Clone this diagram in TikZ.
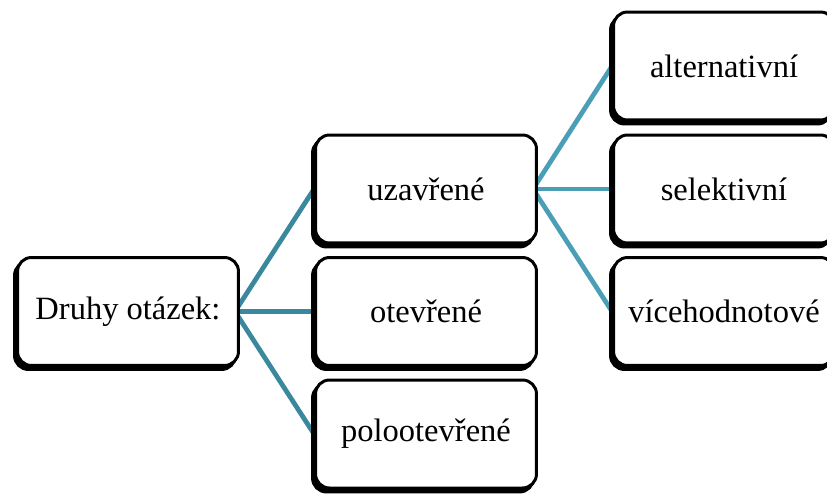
\documentclass[tikz,border=0pt]{standalone}
\usepackage{fontspec}
\setmainfont{Liberation Serif}
\usetikzlibrary{backgrounds}
\definecolor{linkdark}{HTML}{3A889D}
\definecolor{linklight}{HTML}{4A9FB6}
\tikzset{
  px/.style={x=0.02cm,y=-0.02cm},
  box/.style={draw=black, fill=white, line width=1.7pt, rounded corners=0.28cm,
    minimum width=4.42cm, minimum height=2.16cm, inner sep=0pt,
    font=\fontsize{18.5pt}{22pt}\selectfont,
    preaction={fill=black, draw=black, line width=1.7pt,
      transform canvas={shift={(-0.06cm,-0.08cm)}}}},
  linkL/.style={draw=linkdark, line width=2.7pt},
  linkR/.style={draw=linklight, line width=2.7pt}
}
\begin{document}
\begin{tikzpicture}[px]
  \clip (0,0) rectangle (827,493);
  % first level
  \node[box] (root) at (128,311.5) {Druhy otázek:};
  % second level
  \node[box] (closed) at (426,189) {uzavřené};
  \node[box] (open) at (426,311.5) {otevřené};
  \node[box] (semi) at (426,434) {polootevřené};
  % third level
  \node[box] (alt) at (724,66) {alternativní};
  \node[box] (sel) at (724,189) {selektivní};
  \node[box] (multi) at (724,311.5) {vícehodnotové};
  % connectors start slightly inside the parent's right edge
  \coordinate (rootout) at ([xshift=-0.1cm]root.east);
  \coordinate (closedout) at ([xshift=-0.1cm]closed.east);
  \begin{pgfonlayer}{background}
    \fill[white] (0,0) rectangle (827,493);
    \draw[linkL] (rootout) -- (closed.west);
    \draw[linkL] (rootout) -- (open.west);
    \draw[linkL] (rootout) -- (semi.west);
    \draw[linkR] (closedout) -- (alt.west);
    \draw[linkR] (closedout) -- (sel.west);
    \draw[linkR] (closedout) -- (multi.west);
  \end{pgfonlayer}
\end{tikzpicture}
\end{document}
